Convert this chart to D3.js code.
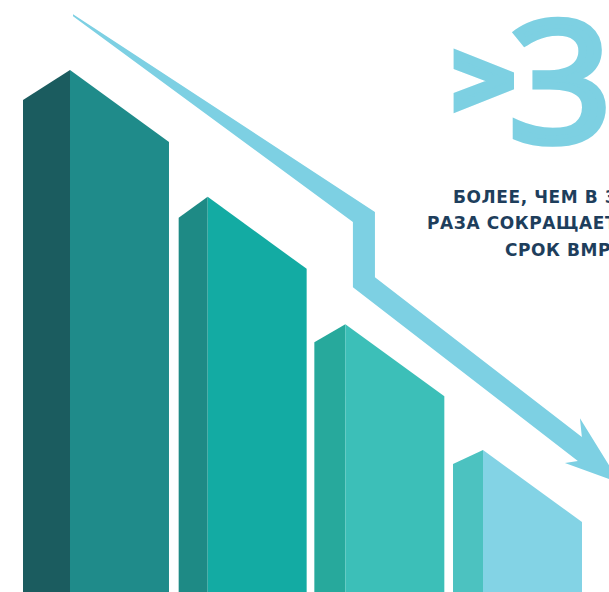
<!DOCTYPE html>
<html>
<head>
<meta charset="utf-8">
<script src="https://cdn.jsdelivr.net/npm/d3@7.9.0/dist/d3.min.js"></script>
<style>
    html, body { margin: 0; padding: 0; background: #fff; overflow: hidden; }
    svg { display: block; }
</style>
</head>
<body>
<div id="chart"></div>
<script>
// data
const categories = ['1', '2', '3', '4'];
const values = [100, 75.7, 51.3, 27.2];

// trend arrow outline, in (bar step, value) units
const arrowOutline = [
    [0.022, 110.7], [2.215, 72.8], [2.215, 60.3], [3.718, 29.7], [3.704, 33.3],
    [3.994, 20.9], [3.595, 24.7], [3.689, 25.1], [2.055, 58.4], [2.055, 70.9],
    [0.022, 110.3]
];

const bigLabel = ['>', '3'];
const captionLines = ['БОЛЕЕ, ЧЕМ В 3', 'РАЗА СОКРАЩАЕТ', 'СРОК ВМР'];

// measure glyph ink with a canvas so big text can be fitted to a box
const measureCtx = document.createElement('canvas').getContext('2d');
function inkBox(txt, font) {
    measureCtx.font = font;
    const m = measureCtx.measureText(txt);
    return {
        left: -m.actualBoundingBoxLeft,
        right: m.actualBoundingBoxRight,
        top: -m.actualBoundingBoxAscent,
        bottom: m.actualBoundingBoxDescent
    };
}

function renderChart() {
    const width = 609;
    const height = 592;

    const svg = d3.select('#chart')
        .append('svg')
        .attr('width', width)
        .attr('height', height);

    const x = d3.scaleBand()
        .domain(categories)
        .range([70, 582])
        .paddingInner(0.281)
        .paddingOuter(0);

    const y = d3.scaleLinear()
        .domain([0, 100])
        .range([592, 70]);

    const step = d3.scaleLinear()
        .domain([0, 1])
        .range([x(categories[0]), x(categories[1])]);

    // look of each 3d bar
    const sideColors = ['#1b5c5f', '#1e8a85', '#27a99c', '#4cc2c0'];
    const frontColors = ['#1f8b8a', '#13aba3', '#3cbfb8', '#83d3e5'];
    const sideWidth = [47, 29, 31, 30];
    const sideRise = [30, 21, 18, 14];
    const topDrop = 72;
    const bottom = height + 10;

    const bars = svg.append('g').attr('class', 'bars')
        .selectAll('g')
        .data(values)
        .join('g');

    // left side face
    bars.append('path')
        .attr('fill', (d, i) => sideColors[i])
        .attr('d', (d, i) => {
            const x0 = x(categories[i]);
            const y0 = y(d);
            return `M${x0 - sideWidth[i]},${y0 + sideRise[i]}L${x0},${y0}L${x0},${bottom}L${x0 - sideWidth[i]},${bottom}Z`;
        });

    // front face
    bars.append('path')
        .attr('fill', (d, i) => frontColors[i])
        .attr('d', (d, i) => {
            const x0 = x(categories[i]);
            const x1 = x0 + x.bandwidth();
            const y0 = y(d);
            return `M${x0},${y0}L${x1},${y0 + topDrop}L${x1},${bottom}L${x0},${bottom}Z`;
        });

    // Arrow
    svg.append('path')
        .attr('fill', '#7dd0e3')
        .attr('d', d3.line().x(d => step(d[0])).y(d => y(d[1]))(arrowOutline) + 'Z');

    // Big ">3", each glyph stretched onto its box (stroke thickens the glyph)
    const fitText = (txt, family, weight, box, sw) => {
        const size = 100;
        const ink = inkBox(txt, `${weight} ${size}px ${family}`);
        const b = [box[0] + sw / 2, box[1] + sw / 2, box[2] - sw / 2, box[3] - sw / 2];
        const sx = (b[2] - b[0]) / (ink.right - ink.left);
        const sy = (b[3] - b[1]) / (ink.bottom - ink.top);
        svg.append('text')
            .attr('font-family', family)
            .attr('font-weight', weight)
            .attr('font-size', size)
            .attr('fill', '#7dd0e2')
            .attr('stroke', '#7dd0e2')
            .attr('stroke-width', sw)
            .attr('stroke-linejoin', 'miter')
            .attr('vector-effect', 'non-scaling-stroke')
            .attr('transform', `translate(${b[0] - ink.left * sx},${b[1] - ink.top * sy}) scale(${sx},${sy})`)
            .text(txt);
    };
    fitText(bigLabel[0], '"DejaVu Sans"', 'bold', [453, 50, 515, 112], 8);
    fitText(bigLabel[1], '"Open Sans"', 'normal', [512, 15, 607, 147], 8);

    // Caption
    const caption = svg.append('g')
        .attr('font-family', '"DejaVu Sans", sans-serif')
        .attr('font-weight', 'bold')
        .attr('font-size', 17)
        .attr('fill', '#1e3e5c');

    const probe = caption.append('text').text('РАЗА СОКРАЩАЕ');
    const w = probe.node().getComputedTextLength();
    probe.remove();
    const spacing = (178 - w) / 13;

    const lineX = [453, 427, 505];
    const lineY = [203, 229, 256];
    caption.selectAll('text')
        .data(captionLines)
        .join('text')
        .attr('x', (d, i) => lineX[i])
        .attr('y', (d, i) => lineY[i])
        .attr('letter-spacing', spacing)
        .text(d => d);
}

renderChart();
</script>
</body>
</html>
